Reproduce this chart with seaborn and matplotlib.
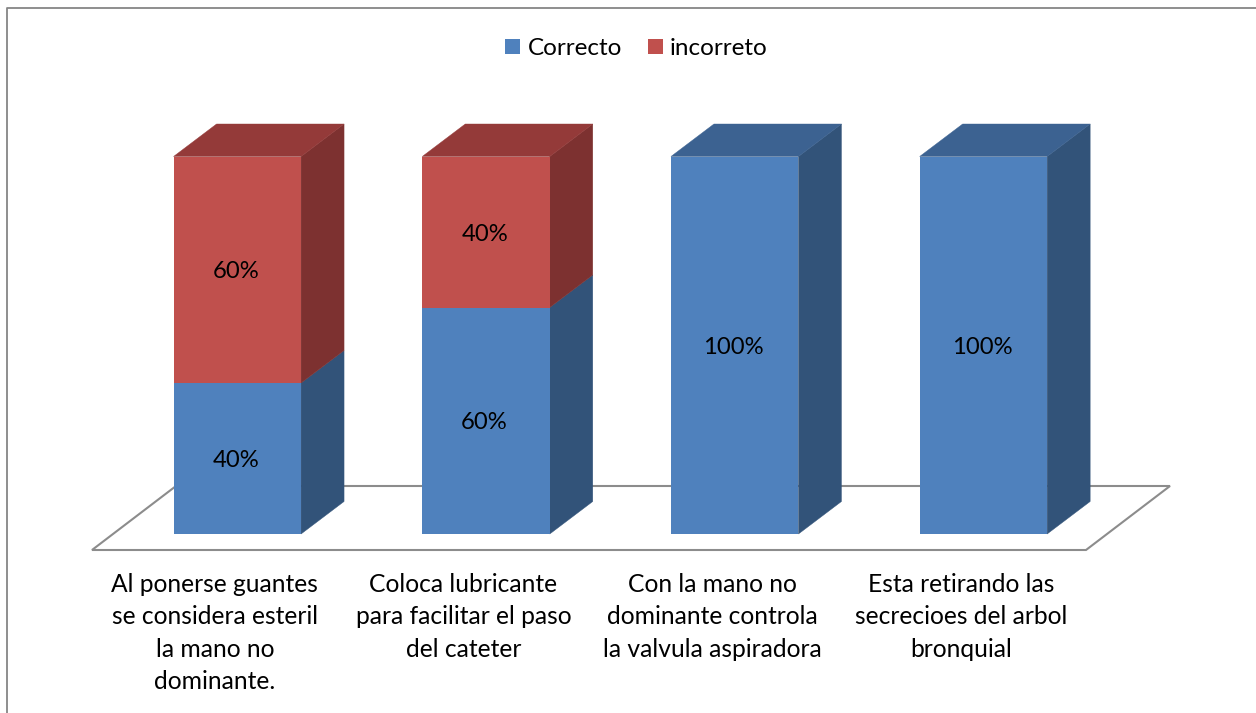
import matplotlib
matplotlib.use("Agg")
import matplotlib.pyplot as plt
from matplotlib.lines import Line2D
from matplotlib.patches import Patch, Polygon
from matplotlib.transforms import ScaledTranslation
import pandas as pd
import seaborn as sns

categories = [
    "Al ponerse guantes\nse considera esteril\nla mano no\ndominante.",
    "Coloca lubricante\npara facilitar el paso\ndel cateter",
    "Con la mano no\ndominante controla\nla valvula aspiradora",
    "Esta retirando las\nsecrecioes del arbol\nbronquial",
]
correcto = [40, 60, 100, 100]
incorreto = [60, 40, 0, 0]

BLUE = ("#4F81BD", "#3C6291", "#325379")
RED = ("#C0504D", "#943A39", "#7D3130")
GRID = "#8C8C8C"
W, H = 1256, 713

sns.set_theme(style="white")
plt.rcParams["font.family"] = ["Lato", "DejaVu Sans"]
plt.rcParams["text.color"] = "black"
FS_TICK = 17.7
FS_LABEL = 17.2
FS_LEGEND = 17.5

# scale: pixels per category / per percentage point
PX_X, PX_Y = 248.7, 3.775
X0_PX, Y0_PX, FLOOR_PX = 237.3, 534.0, 550.0
DX, DY = 43 / PX_X, 32.5 / PX_Y
BAR_W = 127.5 / PX_X

fig = plt.figure(figsize=(W / 100, H / 100), dpi=100, facecolor="white")
ax = fig.add_axes([0, (H - FLOOR_PX) / H, 1, FLOOR_PX / H])

df = pd.DataFrame({"cat": categories, "Correcto": correcto, "incorreto": incorreto})
sns.barplot(data=df, x="cat", y="Correcto", color=BLUE[0], saturation=1,
            width=BAR_W, linewidth=0, ax=ax, zorder=3)
sns.barplot(data=df, x="cat", y="incorreto", bottom=df["Correcto"], color=RED[0],
            saturation=1, width=BAR_W, linewidth=0, ax=ax, zorder=3)

ax.set_xlim(-X0_PX / PX_X, (W - X0_PX) / PX_X)
ax.set_ylim((Y0_PX - FLOOR_PX) / PX_Y, Y0_PX / PX_Y)

# floor of the 3D chart
fy = (Y0_PX - FLOOR_PX) / PX_Y
fl, fr = (92 - X0_PX) / PX_X, (1086 - X0_PX) / PX_X
ddx, ddy = 84 / PX_X, 64 / PX_Y
ax.add_patch(Polygon([(fl, fy), (fr, fy), (fr + ddx, fy + ddy), (fl + ddx, fy + ddy)],
                     closed=True, fc="white", ec=GRID, lw=1.5, zorder=1, clip_on=False))


def depth(i, low, high, cols, with_top):
    xr = i + BAR_W / 2
    xl = i - BAR_W / 2
    ax.add_patch(Polygon([(xr, low), (xr + DX, low + DY), (xr + DX, high + DY), (xr, high)],
                         closed=True, fc=cols[2], ec=cols[2], lw=0.3, zorder=2))
    if with_top:
        ax.add_patch(Polygon([(xl, high), (xr, high), (xr + DX, high + DY), (xl + DX, high + DY)],
                             closed=True, fc=cols[1], ec=cols[1], lw=0.3, zorder=2))


for i, (c, n) in enumerate(zip(correcto, incorreto)):
    depth(i, 0, c, BLUE, n == 0)
    if n > 0:
        depth(i, c, c + n, RED, True)

for container, vals in zip(ax.containers, (correcto, incorreto)):
    anns = ax.bar_label(container, labels=[f"{v}%" if v else "" for v in vals],
                        label_type="center", fontsize=FS_LABEL, color="black", zorder=5)
    for a in anns:
        a.xyann = (-1, -1.5)

ax.set_xlabel("")
ax.set_ylabel("")
ax.set_yticks([])
ax.set_xticks(range(len(categories)))
ax.set_xticklabels(categories, fontsize=FS_TICK, linespacing=1.5, color="black")
ax.tick_params(axis="x", length=0, pad=16.3)
shift = ScaledTranslation(-22.5 / 100, 0, fig.dpi_scale_trans)
for lab in ax.get_xticklabels():
    lab.set_transform(lab.get_transform() + shift)
sns.despine(ax=ax, left=True, bottom=True)

handles = [Patch(fc=BLUE[0], ec="none", label="Correcto"),
           Patch(fc=RED[0], ec="none", label="incorreto")]
fig.legend(handles=handles, ncol=2, frameon=False, fontsize=FS_LEGEND, loc="center",
           bbox_to_anchor=(636.5 / W, 1 - 48.6 / H),
           handlelength=0.62, handleheight=0.62, handletextpad=0.29,
           columnspacing=1.07, borderpad=0)

# chart-area border (top and left edges visible in the crop)
bx, by = 7 / W, 1 - 8 / H
fig.add_artist(Line2D([bx, bx, 1], [0, by, by], transform=fig.transFigure, color="#868686", lw=1.3))

fig.savefig("out.png", dpi=100, facecolor="white")
